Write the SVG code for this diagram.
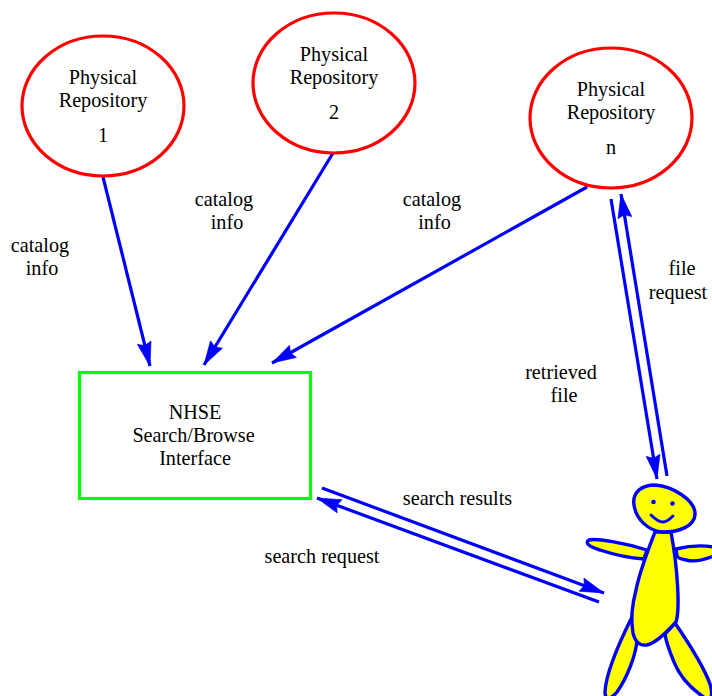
<svg xmlns="http://www.w3.org/2000/svg" width="712" height="696" viewBox="0 0 712 696">
<style>
text{font-family:"Liberation Serif","Times New Roman",serif;font-size:20.200px;fill:#000;text-anchor:middle}
.repo{fill:#fff;stroke:#f00;stroke-width:3.200}
.box{fill:#fff;stroke:#0f0;stroke-width:3.200}
.link{fill:none;stroke:#00f;stroke-width:3.200;marker-end:url(#a)}
.fig{fill:#ff0;stroke:#00f;stroke-width:3.400;stroke-linejoin:round}
</style>
<defs>
<marker id="a" markerUnits="userSpaceOnUse" markerWidth="28" markerHeight="20" refX="24" refY="9" orient="auto" overflow="visible">
<path d="M0 2L24 9L0 16L3 9Z" fill="#00f" stroke="#00f" stroke-width="0.600"/>
</marker>
</defs>
<rect width="712" height="696" fill="#fff"/>
<g id="connectors">
<line class="link" x1="103" y1="177" x2="150" y2="366"/>
<line class="link" x1="333" y1="153" x2="204" y2="365"/>
<line class="link" x1="587" y1="187" x2="272" y2="363"/>
<line class="link" x1="611" y1="199" x2="657" y2="479"/>
<line class="link" x1="667" y1="476" x2="621" y2="194"/>
<line class="link" x1="322" y1="488" x2="604" y2="593"/>
<line class="link" x1="599" y1="602" x2="317" y2="498"/>
</g>
<g id="repo1"><ellipse class="repo" cx="103" cy="106" rx="81" ry="70"/><text x="103" y="84">Physical</text><text x="103" y="107">Repository</text><text x="103" y="142">1</text></g>
<g id="repo2"><ellipse class="repo" cx="334" cy="83" rx="81" ry="70"/><text x="334" y="61">Physical</text><text x="334" y="84">Repository</text><text x="334" y="119">2</text></g>
<g id="repon"><ellipse class="repo" cx="611" cy="118" rx="81" ry="70"/><text x="611" y="96">Physical</text><text x="611" y="119">Repository</text><text x="611" y="154">n</text></g>
<g id="interface"><rect class="box" x="79.500" y="372.500" width="231" height="126"/><text x="195" y="419">NHSE</text><text x="193.500" y="442">Search/Browse</text><text x="195" y="465">Interface</text></g>
<g id="labels">
<text x="40" y="252">catalog</text><text x="42" y="275">info</text>
<text x="224" y="206">catalog</text><text x="227" y="229">info</text>
<text x="432" y="206">catalog</text><text x="434.500" y="229">info</text>
<text x="682" y="275">file</text><text x="678" y="299">request</text>
<text x="561" y="379">retrieved</text><text x="564" y="402">file</text>
<text x="457.500" y="505">search results</text>
<text x="322" y="563">search request</text>
</g>
<g id="user">
<path class="fig" d="M632 617C622 637 606 672 605 692C605 702 612 698 617 692C627 678 636 655 637 640Z"/>
<path class="fig" d="M675 623C690 645 705 670 710 684C713 694 712 702 705 698C693 690 680 677 674 662C669 650 666 642 665 634Z"/>
<path class="fig" d="M647 550C625 543 596 538 589 540C584 543 590 547 600 550C612 554 630 558 644 559Z"/>
<path class="fig" d="M676 549C688 546 702 545 714 547L714 556C704 560 693 562 686 560C680 559 678 558 677 556Z"/>
<path class="fig" d="M655 532C648 550 640 570 636 590C632 605 631 622 633 633C635 642 640 646 647 645C656 643 667 632 676 622C680 610 678 570 671 532Z"/>
<path class="fig" d="M634 505C632 492 642 485 655 485C672 486 696 500 695 515C694 526 680 532 663 532C648 531 636 519 634 505Z"/>
<circle cx="653.500" cy="502" r="2.300" fill="#00f"/>
<circle cx="672.500" cy="503.500" r="2.300" fill="#00f"/>
<path d="M651 515C656 520 660 522 663 522C667 522 670 519 673 516" fill="none" stroke="#00f" stroke-width="3" stroke-linecap="round"/>
</g>
</svg>
